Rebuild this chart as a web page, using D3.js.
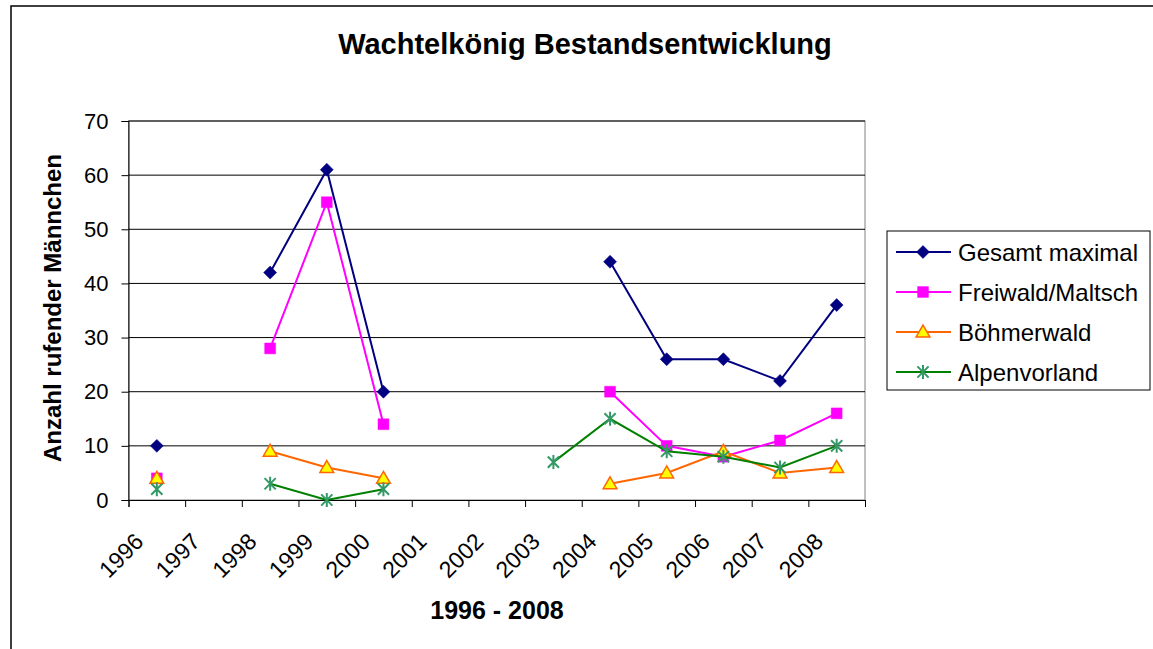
<!DOCTYPE html>
<html>
<head>
<meta charset="utf-8">
<script src="https://cdn.jsdelivr.net/npm/d3@7"></script>
<style>
  body { margin: 0; background: #fff; }
  svg { display: block; font-family: Arial, "Liberation Sans", sans-serif; }
</style>
</head>
<body>
<svg id="chart" width="1153" height="649"></svg>
<script>
// data, null = no count that year
var years = ["1996","1997","1998","1999","2000","2001","2002","2003","2004","2005","2006","2007","2008"];
var gesamt = [10, null, 42, 61, 20, null, null, null, 44, 26, 26, 22, 36];
var freiwald = [4, null, 28, 55, 14, null, null, null, 20, 10, 8, 11, 16];
var boehmerwald = [4, null, 9, 6, 4, null, null, null, 3, 5, 9, 5, 6];
var alpenvorland = [2, null, 3, 0, 2, null, null, 7, 15, 9, 8, 6, 10];
var yTicks = [0, 10, 20, 30, 40, 50, 60, 70];

var series = [
    {name: "Gesamt maximal", values: gesamt, line: "#000080", marker: "diamond", fill: "#000080", stroke: "#000080"},
    {name: "Freiwald/Maltsch", values: freiwald, line: "#ff00ff", marker: "square", fill: "#ff00ff", stroke: "#ff00ff"},
    {name: "Böhmerwald", values: boehmerwald, line: "#ff6600", marker: "triangle", fill: "#ffff00", stroke: "#ff6600"},
    {name: "Alpenvorland", values: alpenvorland, line: "#008000", marker: "star", fill: "none", stroke: "#339966"}
];

var plotLeft = 128.5, plotRight = 865, plotTop = 121, plotBottom = 500;

var svg = d3.select("#chart");

// outer chart frame (runs off the picture on the right and bottom)
svg.append("rect")
    .attr("x", 11).attr("y", 6)
    .attr("width", 1200).attr("height", 700)
    .attr("fill", "#fff")
    .attr("stroke", "#000")
    .attr("stroke-width", 1.5);

var xBand = d3.scaleBand().domain(years).range([plotLeft, plotRight]);
var xIdx = d3.scaleLinear().domain([0, years.length]).range([plotLeft, plotRight]);
var y = d3.scaleLinear().domain([0, 70]).range([plotBottom, plotTop]);

function cx(i){ return xBand(years[i]) + xBand.bandwidth() / 2; }

// plot area border
svg.append("rect")
    .attr("x", plotLeft).attr("y", plotTop)
    .attr("width", plotRight - plotLeft).attr("height", plotBottom - plotTop)
    .attr("fill", "none")
    .attr("stroke", "#808080")
    .attr("stroke-width", 1);

// gridlines
svg.append("g")
    .selectAll("line")
    .data(yTicks.filter(function(d){ return d > 0; }))
    .enter()
    .append("line")
    .attr("x1", plotLeft).attr("x2", plotRight)
    .attr("y1", function(d){ return y(d); })
    .attr("y2", function(d){ return y(d); })
    .attr("stroke", "#000")
    .attr("stroke-width", 1);

// y axis
var yAxis = svg.append("g")
    .attr("transform", "translate(" + plotLeft + ",0)")
    .call(d3.axisLeft(y).tickValues(yTicks).tickSize(7).tickPadding(13));
yAxis.select(".domain").attr("stroke", "#000");
yAxis.selectAll("text")
    .attr("font-size", 22)
    .attr("fill", "#000")
    .attr("font-family", "Arial, 'Liberation Sans', sans-serif");

// x axis, ticks between categories
var xAxis = svg.append("g")
    .attr("transform", "translate(0," + plotBottom + ")")
    .call(d3.axisBottom(xIdx).tickValues(d3.range(0, years.length + 1)).tickSize(7).tickFormat(""));
xAxis.select(".domain").attr("stroke", "#000");

svg.append("g")
    .selectAll("text")
    .data(years)
    .enter()
    .append("text")
    .attr("transform", function(d, i){
        return "translate(" + (cx(i) - 12) + ",543) rotate(-45)";
    })
    .attr("text-anchor", "end")
    .attr("font-size", 23)
    .text(function(d){ return d; });

// lines
var line = d3.line()
    .defined(function(d){ return d.v !== null; })
    .x(function(d){ return cx(d.i); })
    .y(function(d){ return y(d.v); });

function markerPath(type){
    if (type == "diamond") return d3.symbol().type(d3.symbolSquare).size(84)();
    if (type == "square") return d3.symbol().type(d3.symbolSquare).size(118)();
    if (type == "triangle") return d3.symbol().type(d3.symbolTriangle).size(82)();
    var r = 7, a = r * 0.8;
    return "M0," + (-r) + "L0," + r + "M" + (-a) + "," + (-a) + "L" + a + "," + a + "M" + (-a) + "," + a + "L" + a + "," + (-a);
}

series.forEach(function(s){
    var pts = s.values.map(function(v, i){ return {v: v, i: i}; });
    var g = svg.append("g");
    g.append("path")
        .datum(pts)
        .attr("d", line)
        .attr("fill", "none")
        .attr("stroke", s.line)
        .attr("stroke-width", 2);
    g.selectAll("path.mk")
        .data(pts.filter(function(d){ return d.v !== null; }))
        .enter()
        .append("path")
        .attr("class", "mk")
        .attr("d", markerPath(s.marker))
        .attr("transform", function(d){
            var t = "translate(" + cx(d.i) + "," + y(d.v) + ")";
            if (s.marker == "diamond") t += " rotate(45)";
            if (s.marker == "triangle") t += " translate(0,1)";
            return t;
        })
        .attr("fill", s.fill)
        .attr("stroke", s.stroke)
        .attr("stroke-width", s.marker == "star" ? 2 : (s.marker == "triangle" ? 1.5 : 0.5));
});

// titles
svg.append("text")
    .attr("x", 585).attr("y", 54)
    .attr("text-anchor", "middle")
    .attr("font-size", 29)
    .attr("font-weight", "bold")
    .text("Wachtelkönig Bestandsentwicklung");

svg.append("text")
    .attr("transform", "translate(61,308) rotate(-90)")
    .attr("text-anchor", "middle")
    .attr("font-size", 24)
    .attr("font-weight", "bold")
    .text("Anzahl rufender Männchen");

svg.append("text")
    .attr("x", 497).attr("y", 619)
    .attr("text-anchor", "middle")
    .attr("font-size", 25)
    .attr("font-weight", "bold")
    .text("1996 - 2008");

// legend
var legend = svg.append("g");
legend.append("rect")
    .attr("x", 887).attr("y", 231)
    .attr("width", 263).attr("height", 159)
    .attr("fill", "#fff")
    .attr("stroke", "#000")
    .attr("stroke-width", 1);

var rows = legend.selectAll("g.row")
    .data(series)
    .enter()
    .append("g")
    .attr("class", "row")
    .attr("transform", function(d, i){ return "translate(0," + (252 + i * 40) + ")"; });

rows.append("line")
    .attr("x1", 896).attr("x2", 951)
    .attr("y1", 0).attr("y2", 0)
    .attr("stroke", function(d){ return d.line; })
    .attr("stroke-width", 2);

rows.append("path")
    .attr("d", function(d){ return markerPath(d.marker); })
    .attr("transform", function(d){
        var t = "translate(923,0)";
        if (d.marker == "diamond") t += " rotate(45)";
        if (d.marker == "triangle") t += " translate(0,1)";
        return t;
    })
    .attr("fill", function(d){ return d.fill; })
    .attr("stroke", function(d){ return d.stroke; })
    .attr("stroke-width", function(d){ return d.marker == "star" ? 2 : (d.marker == "triangle" ? 1.5 : 0.5); });

rows.append("text")
    .attr("x", 958).attr("y", 9)
    .attr("font-size", 24)
    .text(function(d){ return d.name; });
</script>
</body>
</html>
